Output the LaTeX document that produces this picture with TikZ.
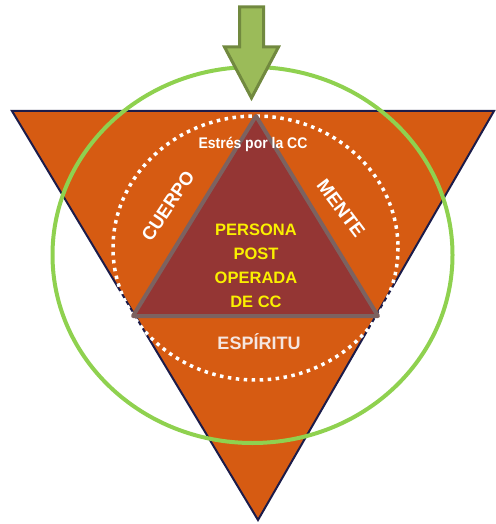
\documentclass[tikz,border=0pt]{standalone}
\usepackage{fontspec}
\setmainfont{Liberation Sans}
\usepackage{tikz}
\usepackage{color}

\definecolor{naranja}{RGB}{214,91,18}
\definecolor{borde}{RGB}{28,28,74}
\definecolor{vino}{RGB}{148,54,52}
\definecolor{gris}{RGB}{124,98,96}
\definecolor{verde}{RGB}{143,209,79}
\definecolor{flecha}{RGB}{155,187,89}
\definecolor{flechaborde}{RGB}{113,137,63}
\definecolor{amarillo}{RGB}{250,240,0}
\definecolor{rosado}{RGB}{245,230,225}

\begin{document}
\begin{tikzpicture}[x=1pt, y=-1pt,
		outer/.style={fill=naranja, draw=borde, line width=2pt, line join=miter},
		inner/.style={fill=vino, draw=gris, line width=4pt, line join=round},
		dots/.style={draw=white, line width=3.5pt, dash pattern=on 3.5pt off 4.5pt},
		ring/.style={draw=verde, line width=4pt},
		arrowbox/.style={fill=flecha, draw=flechaborde, line width=3pt, line join=miter},
		label/.style={font=\bfseries\fontsize{19}{19}\selectfont, text=white, inner sep=0pt},
		core/.style={font=\bfseries\fontsize{16.5}{24}\selectfont, text=amarillo, align=center, inner sep=0pt}]
		\useasboundingbox (0,0) rectangle (495,524);
		\coordinate (a) at (12,111);
		\coordinate (b) at (494,111);
		\coordinate (c) at (258,520);
		\coordinate (p) at (256,116);
		\coordinate (q) at (133,316);
		\coordinate (r) at (378,316);
		
		\draw[outer] (a) -- (b) -- (c) -- cycle;
		\draw[dots] (255.5,248) ellipse (142.5 and 132);
		\draw[inner] (p) -- (r) -- (q) -- cycle;
		\draw[ring] (252.5,255) ellipse (200 and 188);
		\draw[arrowbox] (239.5,7) -- (263.5,7) -- (263.5,47) -- (278.5,47)
			-- (251.5,98) -- (224.5,47) -- (239.5,47) -- cycle;
		
		\node[label, font=\bfseries\fontsize{14}{14}\selectfont, yscale=1.1] (estres) at (253,144) {Estrés por la CC};
		\node[label, rotate=56, font=\bfseries\fontsize{18.5}{18.5}\selectfont] (cuerpo) at (168,206) {CUERPO};
		\node[label, rotate=-53] (mente) at (341,208) {MENTE};
		\node[core] (persona) at (256,266) {PERSONA\\POST\\OPERADA\\DE CC};
		\node[label, text=rosado, font=\bfseries\fontsize{18}{18}\selectfont] (espiritu) at (259,342) {ESPÍRITU};
		
	\end{tikzpicture}
\end{document}
